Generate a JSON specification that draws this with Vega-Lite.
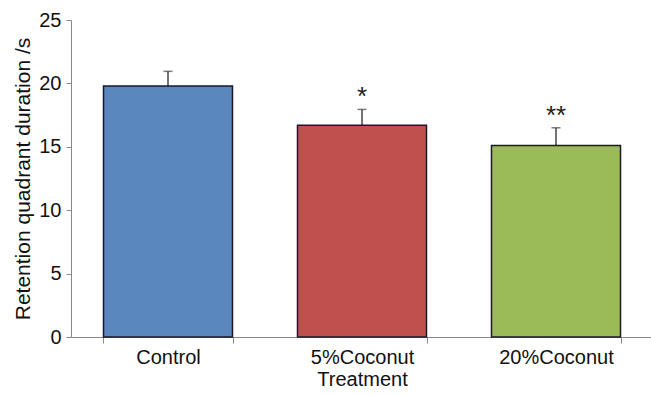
{
  "$schema": "https://vega.github.io/schema/vega-lite/v6.json",
  "width": 582,
  "height": 317,
  "autosize": {"type": "none"},
  "padding": {"left": 71, "top": 20, "right": 0, "bottom": 58},
  "background": "white",
  "config": {"view": {"stroke": null}, "font": "Liberation Sans"},
  "data": {"values": [
    {"treatment": "Control", "mean": 19.8, "upper": 20.95, "sig": "", "color": "#5a87be"},
    {"treatment": "5%Coconut", "mean": 16.7, "upper": 17.95, "sig": "*", "color": "#c0504d"},
    {"treatment": "20%Coconut", "mean": 15.1, "upper": 16.5, "sig": "**", "color": "#9bbb59"}
  ]},
  "encoding": {
    "x": {
      "field": "treatment", "type": "nominal", "sort": null,
      "scale": {"paddingInner": 0.335, "paddingOuter": 0.1675},
      "axis": {
        "title": "Treatment", "titleFontSize": 20, "titleFontWeight": "normal", "titleColor": "#111",
        "titlePadding": 2,
        "labelAngle": 0, "labelFontSize": 20, "labelColor": "#111", "labelPadding": 4,
        "domainColor": "#888", "tickColor": "#888", "tickSize": 6, "tickBand": "extent",
        "grid": false
      }
    }
  },
  "layer": [
    {
      "mark": {"type": "rule", "color": "#444", "strokeWidth": 1.5},
      "encoding": {
        "y": {"field": "mean", "type": "quantitative"},
        "y2": {"field": "upper"}
      }
    },
    {
      "mark": {"type": "tick", "color": "#444", "thickness": 1.5, "size": 9},
      "encoding": {
        "y": {"field": "upper", "type": "quantitative"}
      }
    },
    {
      "mark": {"type": "bar", "stroke": "#1a1a2a", "strokeWidth": 1.5},
      "encoding": {
        "y": {
          "field": "mean", "type": "quantitative",
          "scale": {"domain": [0, 25], "nice": false},
          "axis": {
            "title": "Retention quadrant duration /s", "titleFontSize": 21, "titleFontWeight": "normal",
            "titleColor": "#111", "titlePadding": 5,
            "values": [0, 5, 10, 15, 20, 25],
            "labelFontSize": 20, "labelColor": "#111", "labelPadding": 5,
            "domainColor": "#888", "tickColor": "#888", "tickSize": 5, "grid": false
          }
        },
        "color": {"field": "color", "type": "nominal", "scale": null}
      }
    },
    {
      "mark": {"type": "text", "fontSize": 26, "baseline": "alphabetic", "dy": -4, "color": "#222"},
      "encoding": {
        "y": {"field": "upper", "type": "quantitative"},
        "text": {"field": "sig"}
      }
    }
  ]
}
